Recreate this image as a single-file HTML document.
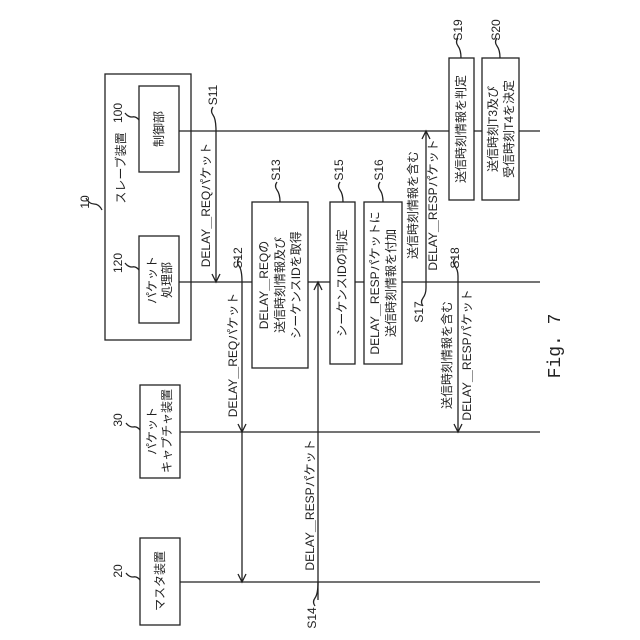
<!DOCTYPE html>
<html><head><meta charset="utf-8"><style>body{margin:0;background:#fff}svg{display:block}text{font-family:"Liberation Sans","Noto Sans CJK JP",sans-serif;font-size:12px;fill:#222}</style></head><body>
<svg width="640" height="640" viewBox="0 0 640 640" xmlns="http://www.w3.org/2000/svg">
<g stroke="#222" stroke-width="1.3" fill="none">
<line x1="179" y1="131" x2="540" y2="131"/>
<line x1="179" y1="282" x2="540" y2="282"/>
<line x1="180" y1="432" x2="540" y2="432"/>
<line x1="180" y1="582" x2="540" y2="582"/>
<rect x="105" y="74" width="86" height="266"/>
<rect x="139" y="86" width="40" height="86" fill="#fff"/>
<rect x="139" y="236" width="40" height="87" fill="#fff"/>
<rect x="140" y="385" width="40" height="93" fill="#fff"/>
<rect x="140" y="538" width="40" height="87" fill="#fff"/>
<rect x="252" y="202" width="56" height="166" fill="#fff"/>
<rect x="330" y="202" width="25" height="162" fill="#fff"/>
<rect x="364" y="202" width="38" height="162" fill="#fff"/>
<rect x="449" y="58" width="25" height="142" fill="#fff"/>
<rect x="482" y="58" width="37" height="142" fill="#fff"/>
<!-- arrows -->
<line x1="216" y1="131" x2="216" y2="282"/><polyline points="212,274 216,282 220,274"/>
<line x1="242" y1="282" x2="242" y2="582"/><polyline points="238,424 242,432 246,424"/><polyline points="238,574 242,582 246,574"/>
<line x1="318" y1="282" x2="318" y2="600"/><polyline points="314,290 318,282 322,290"/>
<line x1="426" y1="131" x2="426" y2="288"/><polyline points="422,139 426,131 430,139"/>
<line x1="458" y1="276" x2="458" y2="432"/><polyline points="454,424 458,432 462,424"/>
<!-- squiggles -->
<path d="M102,210 q-3,-6 -8,-6 q-5,0 -8,-6"/>
<path d="M139,120 q-3,-4 -7,-3 q-4,0 -7,-4"/>
<path d="M139,270 q-3,-4 -7,-3 q-4,0 -7,-4"/>
<path d="M140,430 q-3,-4 -7,-3 q-4,0 -7,-4"/>
<path d="M140,580 q-3,-4 -7,-3 q-4,0 -7,-4"/>
<path d="M216,131 q0,-12 -3,-16 q-3,-4 0,-8"/>
<path d="M242,282 q0,-12 -3,-16 q-3,-4 0,-8"/>
<path d="M280,202 q0,-8 -3,-12 q-3,-4 0,-8"/>
<path d="M343,202 q0,-8 -3,-12 q-3,-4 0,-8"/>
<path d="M383,202 q0,-8 -3,-12 q-3,-4 0,-8"/>
<path d="M461,58 q0,-8 -3,-12 q-3,-4 0,-8"/>
<path d="M500,58 q0,-8 -3,-12 q-3,-4 0,-8"/>
<path d="M318,582 q0,12 -3,16 q-3,4 0,8"/>
<path d="M426,288 q0,6 -3,10 q-3,4 0,8"/>
<path d="M458,276 q0,-6 -3,-10 q-3,-4 0,-8"/>
</g>
<g text-anchor="middle" dominant-baseline="central">
<text transform="translate(159,129) rotate(-90)">制御部</text>
<text transform="translate(152,280) rotate(-90)">パケット</text>
<text transform="translate(167,280) rotate(-90)">処理部</text>
<text transform="translate(152,431) rotate(-90)">パケット</text>
<text transform="translate(167,431) rotate(-90)">キャプチャ装置</text>
<text transform="translate(160,581) rotate(-90)">マスタ装置</text>
<text transform="translate(121,168) rotate(-90)">スレーブ装置</text>
<text transform="translate(85,202) rotate(-90)">10</text>
<text transform="translate(118,113) rotate(-90)">100</text>
<text transform="translate(118,263) rotate(-90)">120</text>
<text transform="translate(118,420) rotate(-90)">30</text>
<text transform="translate(118,571) rotate(-90)">20</text>
<text transform="translate(206,205) rotate(-90)">DELAY＿REQパケット</text>
<text transform="translate(233,355) rotate(-90)">DELAY＿REQパケット</text>
<text transform="translate(310,505) rotate(-90)">DELAY＿RESPパケット</text>
<text transform="translate(213,95) rotate(-90)">S11</text>
<text transform="translate(238,258) rotate(-90)">S12</text>
<text transform="translate(276,170) rotate(-90)">S13</text>
<text transform="translate(312,618) rotate(-90)">S14</text>
<text transform="translate(339,170) rotate(-90)">S15</text>
<text transform="translate(379,170) rotate(-90)">S16</text>
<text transform="translate(419,312) rotate(-90)">S17</text>
<text transform="translate(455,258) rotate(-90)">S18</text>
<text transform="translate(458,30) rotate(-90)">S19</text>
<text transform="translate(496,30) rotate(-90)">S20</text>
<text transform="translate(264,285) rotate(-90)">DELAY＿REQの</text>
<text transform="translate(280,285) rotate(-90)">送信時刻情報及び</text>
<text transform="translate(296,285) rotate(-90)">シーケンスIDを取得</text>
<text transform="translate(342,283) rotate(-90)">シーケンスIDの判定</text>
<text transform="translate(375,283) rotate(-90)">DELAY＿RESPパケットに</text>
<text transform="translate(391,283) rotate(-90)">送信時刻情報を付加</text>
<text transform="translate(413,205) rotate(-90)">送信時刻情報を含む</text>
<text transform="translate(433,205) rotate(-90)">DELAY＿RESPパケット</text>
<text transform="translate(447,355) rotate(-90)">送信時刻情報を含む</text>
<text transform="translate(467,355) rotate(-90)">DELAY＿RESPパケット</text>
<text transform="translate(461,129) rotate(-90)">送信時刻情報を判定</text>
<text transform="translate(493,129) rotate(-90)">送信時刻T3及び</text>
<text transform="translate(509,129) rotate(-90)">受信時刻T4を決定</text>
<text transform="translate(556,346) rotate(-90)" style="font-family:'Liberation Mono',monospace;font-size:18px">Fig. 7</text>
</g>
</svg>
</body></html>
